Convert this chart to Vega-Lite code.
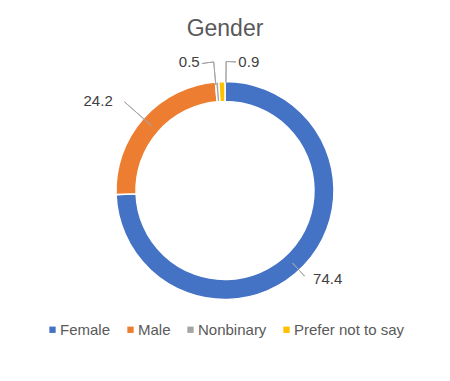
{
  "$schema": "https://vega.github.io/schema/vega-lite/v6.json",
  "width": 450,
  "height": 381,
  "autosize": {"type": "none"},
  "padding": 0,
  "background": "white",
  "config": {"font": "Liberation Sans", "view": {"stroke": null}},
  "title": {"text": "Gender", "fontSize": 23, "fontWeight": "normal", "color": "#595959", "anchor": "middle", "frame": "group", "offset": -41},
  "data": {"values": [
    {"category": "Female", "value": 74.4, "order": 1},
    {"category": "Male", "value": 24.2, "order": 2},
    {"category": "Nonbinary", "value": 0.5, "order": 3},
    {"category": "Prefer not to say", "value": 0.9, "order": 4}
  ]},
  "transform": [
    {"window": [{"op": "sum", "field": "value", "as": "cum"}], "sort": [{"field": "order"}], "frame": [null, 0]},
    {"calculate": "datum.cum - datum.value / 2", "as": "mid"}
  ],
  "layer": [
    {
      "mark": {"type": "arc", "outerRadius": 109, "innerRadius": 89, "stroke": "white", "strokeWidth": 1.5},
      "encoding": {
        "theta": {"field": "value", "type": "quantitative", "stack": true, "scale": {"domain": [0, 100]}},
        "order": {"field": "order", "type": "quantitative"},
        "color": {
          "field": "category", "type": "nominal",
          "scale": {"domain": ["Female", "Male", "Nonbinary", "Prefer not to say"], "range": ["#4472C4", "#ED7D31", "#A5A5A5", "#FFC000"]},
          "legend": {"orient": "none", "legendX": 45, "legendY": 322, "direction": "horizontal", "title": null, "symbolType": "square", "symbolSize": 40, "symbolStrokeWidth": 0, "labelFontSize": 15, "labelColor": "#595959", "labelOffset": 0, "columnPadding": 12, "padding": 0}
        }
      }
    },
    {
      "transform": [{"filter": "datum.category == 'Female'"}],
      "layer": [
        {"mark": {"type": "arc", "radius": 117, "radius2": 99, "thetaOffset": 0.055, "theta2Offset": 0.055, "stroke": "#A6A6A6", "strokeWidth": 1, "fillOpacity": 0},
         "encoding": {"theta": {"field": "mid", "type": "quantitative", "stack": false}, "theta2": {"field": "mid"}}},
        {"mark": {"type": "text", "radius": 125, "align": "left", "baseline": "middle", "dx": -2, "dy": 2, "fontSize": 15, "color": "#404040"},
         "encoding": {"theta": {"field": "mid", "type": "quantitative", "stack": false}, "text": {"field": "value", "type": "quantitative", "format": ".1f"}}}
      ]
    },
    {
      "transform": [{"filter": "datum.category == 'Male'"}],
      "layer": [
        {"mark": {"type": "arc", "radius": 134, "radius2": 98, "stroke": "#A6A6A6", "strokeWidth": 1, "fillOpacity": 0},
         "encoding": {"theta": {"field": "mid", "type": "quantitative", "stack": false}, "theta2": {"field": "mid"}}},
        {"mark": {"type": "text", "radius": 135, "align": "right", "baseline": "middle", "dx": -11, "fontSize": 15, "color": "#404040"},
         "encoding": {"theta": {"field": "mid", "type": "quantitative", "stack": false}, "text": {"field": "value", "type": "quantitative", "format": ".1f"}}}
      ]
    },
    {
      "transform": [{"filter": "datum.category == 'Nonbinary'"}],
      "layer": [
        {"mark": {"type": "arc", "radius": 129, "radius2": 106, "thetaOffset": -0.015, "theta2Offset": -0.015, "stroke": "#A6A6A6", "strokeWidth": 1, "fillOpacity": 0},
         "encoding": {"theta": {"field": "mid", "type": "quantitative", "stack": false}, "theta2": {"field": "mid"}}},
        {"mark": {"type": "arc", "radius": 129, "radius2": 129, "thetaOffset": -0.1075, "theta2Offset": -0.015, "stroke": "#A6A6A6", "strokeWidth": 1, "fillOpacity": 0},
         "encoding": {"theta": {"field": "mid", "type": "quantitative", "stack": false}, "theta2": {"field": "mid"}}},
        {"mark": {"type": "text", "radius": 128.5, "align": "right", "baseline": "middle", "dx": -16, "fontSize": 15, "color": "#404040"},
         "encoding": {"theta": {"field": "mid", "type": "quantitative", "stack": false}, "text": {"field": "value", "type": "quantitative", "format": ".1f"}}}
      ]
    },
    {
      "transform": [{"filter": "datum.category == 'Prefer not to say'"}],
      "layer": [
        {"mark": {"type": "arc", "radius": 129, "radius2": 108, "thetaOffset": 0.037, "theta2Offset": 0.037, "stroke": "#A6A6A6", "strokeWidth": 1, "fillOpacity": 0},
         "encoding": {"theta": {"field": "mid", "type": "quantitative", "stack": false}, "theta2": {"field": "mid"}}},
        {"mark": {"type": "arc", "radius": 129, "radius2": 129, "thetaOffset": 0.037, "theta2Offset": 0.1136, "stroke": "#A6A6A6", "strokeWidth": 1, "fillOpacity": 0},
         "encoding": {"theta": {"field": "mid", "type": "quantitative", "stack": false}, "theta2": {"field": "mid"}}},
        {"mark": {"type": "text", "radius": 128.5, "align": "left", "baseline": "middle", "dx": 17, "fontSize": 15, "color": "#404040"},
         "encoding": {"theta": {"field": "mid", "type": "quantitative", "stack": false}, "text": {"field": "value", "type": "quantitative", "format": ".1f"}}}
      ]
    }
  ]
}
